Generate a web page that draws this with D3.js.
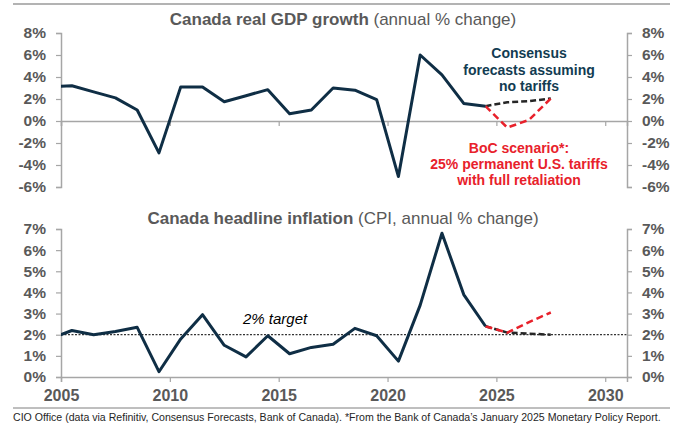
<!DOCTYPE html>
<html>
<head>
<meta charset="utf-8">
<script src="https://cdnjs.cloudflare.com/ajax/libs/d3/7.8.5/d3.min.js"></script>
<style>
  body { margin: 0; background: #fff; }
  svg { font-family: "Liberation Sans", Arial, sans-serif; }
</style>
</head>
<body>
<div id="my_dataviz"></div>
<script>
// data (annual, plotted at mid-year)
var years = [2004, 2005, 2006, 2007, 2008, 2009, 2010, 2011, 2012, 2013, 2014,
             2015, 2016, 2017, 2018, 2019, 2020, 2021, 2022, 2023, 2024];
var gdp = [3.1, 3.2, 2.65, 2.1, 1.0, -2.9, 3.1, 3.1, 1.75, 2.3, 2.85,
           0.65, 1.0, 3.0, 2.8, 1.95, -5.05, 6.0, 4.2, 1.6, 1.35];
var cpi = [1.8, 2.2, 2.0, 2.15, 2.35, 0.25, 1.8, 2.95, 1.5, 0.95, 1.95,
           1.1, 1.4, 1.55, 2.3, 1.95, 0.75, 3.4, 6.8, 3.9, 2.4];

// forecasts
var fcYears = [2024, 2025, 2026, 2027];
var gdpConsensus = [1.35, 1.7, 1.8, 2.05];
var gdpBoc = [1.35, -0.6, 0.1, 2.05];
var cpiConsensus = [2.4, 2.1, 2.05, 2.0];
var cpiBoc = [2.4, 2.1, 2.6, 3.05];

var gdpTicks = [-6, -4, -2, 0, 2, 4, 6, 8];
var cpiTicks = [0, 1, 2, 3, 4, 5, 6, 7];
var xTicks = [2005, 2010, 2015, 2020, 2025, 2030];
var cpiTarget = 2;

var navy = "#0f2e45", red = "#e8212b", grey = "#595959", axisGrey = "#a6a6a6";

var W = 678, H = 428;
var svg = d3.select("#my_dataviz")
    .append("svg")
    .attr("width", W)
    .attr("height", H);

// shared x scale
var x = d3.scaleLinear()
    .domain([2005, 2031])
    .range([61, 627]);

var yG = d3.scaleLinear().domain([-6, 8]).range([187, 33]);
var yC = d3.scaleLinear().domain([0, 7]).range([377, 229]);

// clip so the 2004 point only shows as the line entering at 2005
svg.append("clipPath").attr("id", "plotclip")
    .append("rect")
    .attr("x", x(2005)).attr("y", 0)
    .attr("width", x(2031) - x(2005)).attr("height", H);

// rules at top and above footer
svg.append("line").attr("x1", 13).attr("x2", 670).attr("y1", 4).attr("y2", 4)
    .attr("stroke", "#9a9a9a").attr("stroke-width", 1.5);
svg.append("line").attr("x1", 13).attr("x2", 670).attr("y1", 408).attr("y2", 408)
    .attr("stroke", "#7f7f7f").attr("stroke-width", 1);

function styleAxis(g) {
    g.select(".domain").attr("stroke", axisGrey).attr("stroke-width", 1.5);
    g.selectAll(".tick line").attr("stroke", axisGrey).attr("stroke-width", 1.2);
    g.selectAll(".tick text").attr("fill", grey).attr("font-weight", "bold");
}

function panel(y, ticks, yFmt, series, cons, boc, xLabels) {
    var y0 = y(d3.max([0, y.domain()[0]]));

    // left and right axes
    svg.append("g")
        .attr("transform", `translate(${x(2005)},0)`)
        .call(d3.axisLeft(y).tickValues(ticks).tickFormat(yFmt).tickSizeOuter(0).tickSize(5).tickPadding(10))
        .call(styleAxis)
        .selectAll("text").attr("font-size", "15.5px");
    svg.append("g")
        .attr("transform", `translate(${x(2031)},0)`)
        .call(d3.axisRight(y).tickValues(ticks).tickFormat(yFmt).tickSizeOuter(0).tickSize(5).tickPadding(10))
        .call(styleAxis)
        .selectAll("text").attr("font-size", "15.5px");

    // x axis at zero
    var xa = svg.append("g")
        .attr("transform", `translate(0,${y0})`)
        .call(d3.axisBottom(x).tickValues(xTicks).tickFormat(xLabels ? d3.format("d") : "")
            .tickSizeOuter(0).tickSize(5).tickPadding(8))
        .call(styleAxis);
    xa.selectAll("text").attr("font-size", "16px");

    var line = d3.line()
        .x(function (d) { return x(d[0] + 0.5); })
        .y(function (d) { return y(d[1]); });

    var g = svg.append("g").attr("clip-path", "url(#plotclip)");

    // forecasts (dashed)
    g.append("path")
        .datum(fcYears.map(function (yr, i) { return [yr, cons[i]]; }))
        .attr("fill", "none")
        .attr("stroke", "#262626")
        .attr("stroke-width", 2.5)
        .attr("stroke-dasharray", "6,3")
        .attr("d", line);
    g.append("path")
        .datum(fcYears.map(function (yr, i) { return [yr, boc[i]]; }))
        .attr("fill", "none")
        .attr("stroke", red)
        .attr("stroke-width", 2.5)
        .attr("stroke-dasharray", "7,4")
        .attr("d", line);

    // history
    g.append("path")
        .datum(years.map(function (yr, i) { return [yr, series[i]]; }))
        .attr("fill", "none")
        .attr("stroke", navy)
        .attr("stroke-width", 3)
        .attr("stroke-linejoin", "round")
        .attr("d", line);
}

var pct = function (d) { return d + "%"; };

// 2% target line (drawn under the CPI series)
svg.append("line")
    .attr("x1", x(2005)).attr("x2", x(2031))
    .attr("y1", yC(cpiTarget)).attr("y2", yC(cpiTarget))
    .attr("stroke", "#000").attr("stroke-width", 1)
    .attr("stroke-dasharray", "2,1.5");
svg.append("text")
    .attr("x", 243).attr("y", 324)
    .attr("font-size", "15px")
    .attr("font-style", "italic")
    .attr("fill", "#000")
    .text("2% target");

panel(yG, gdpTicks, pct, gdp, gdpConsensus, gdpBoc, false);
panel(yC, cpiTicks, pct, cpi, cpiConsensus, cpiBoc, true);

// titles
var t1 = svg.append("text").attr("x", 343).attr("y", 25)
    .attr("text-anchor", "middle").attr("font-size", "17px").attr("fill", grey);
t1.append("tspan").attr("font-weight", "bold").text("Canada real GDP growth");
t1.append("tspan").text(" (annual % change)");

var t2 = svg.append("text").attr("x", 343).attr("y", 224)
    .attr("text-anchor", "middle").attr("font-size", "17px").attr("fill", grey);
t2.append("tspan").attr("font-weight", "bold").text("Canada headline inflation");
t2.append("tspan").text(" (CPI, annual % change)");

// annotations
var consLines = ["Consensus", "forecasts assuming", "no tariffs"];
consLines.forEach(function (s, i) {
    svg.append("text").attr("x", 529).attr("y", 58 + i * 16.5)
        .attr("text-anchor", "middle").attr("font-size", "14px")
        .attr("font-weight", "bold").attr("fill", "#123c52").text(s);
});
var bocLines = ["BoC scenario*:", "25% permanent U.S. tariffs", "with full retaliation"];
bocLines.forEach(function (s, i) {
    svg.append("text").attr("x", 519).attr("y", 153 + i * 16)
        .attr("text-anchor", "middle").attr("font-size", "14px")
        .attr("font-weight", "bold").attr("fill", red).text(s);
});

// footer: condensed look by squeezing horizontally to fit the rule width
var foot = svg.append("g");
var ft = foot.append("text")
    .attr("x", 0).attr("y", 0)
    .attr("font-size", "11.5px")
    .attr("fill", "#262626")
    .text("CIO Office (data via Refinitiv, Consensus Forecasts, Bank of Canada). *From the Bank of Canada\u2019s January 2025 Monetary Policy Report.");
var fw = ft.node().getComputedTextLength();
var fs = Math.min(1, 648 / fw);
foot.attr("transform", `translate(13,421) scale(${fs},1)`);
</script>
</body>
</html>
